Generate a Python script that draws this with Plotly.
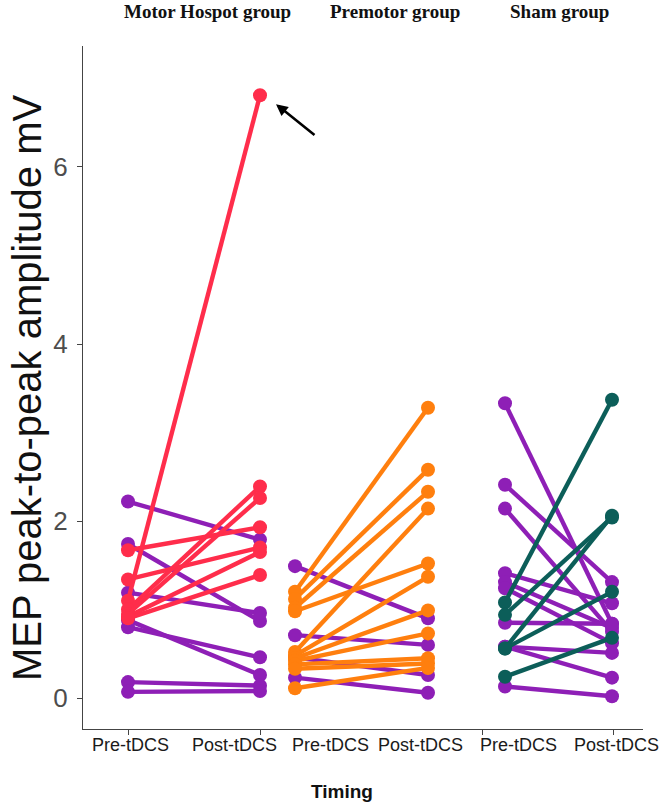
import plotly.graph_objects as go

# ---------------- data ----------------
timing_labels = ["Pre-tDCS", "Post-tDCS"]
group_names = ["Motor Hospot group", "Premotor group", "Sham group"]

motor_purple_pre = [2.22, 1.74, 1.19, 0.88, 0.80, 0.18, 0.07]
motor_purple_post = [1.79, 0.87, 0.96, 0.26, 0.46, 0.14, 0.08]
motor_red_pre = [1.67, 1.34, 1.10, 1.00, 0.95, 0.92, 0.90]
motor_red_post = [1.93, 1.70, 6.81, 2.39, 2.26, 1.65, 1.39]

premotor_purple_pre = [1.49, 0.71, 0.46, 0.23]
premotor_purple_post = [0.90, 0.60, 0.26, 0.06]
premotor_orange_pre = [1.20, 1.12, 1.02, 0.98, 0.52, 0.48, 0.45, 0.42, 0.38, 0.33, 0.11]
premotor_orange_post = [3.28, 2.58, 2.33, 1.52, 2.14, 1.37, 0.99, 0.73, 0.45, 0.39, 0.34]

sham_purple_pre = [3.33, 2.41, 2.14, 1.41, 1.31, 1.24, 0.85, 0.58, 0.58, 0.13]
sham_purple_post = [0.84, 1.31, 0.75, 1.07, 0.79, 0.62, 0.84, 0.51, 0.23, 0.02]
sham_teal_pre = [1.08, 0.94, 0.56, 0.56, 0.24]
sham_teal_post = [3.37, 2.04, 2.06, 1.20, 0.68]

# ---------------- layout constants ----------------
W, H = 663, 806
# plot area in page pixels
PX_LEFT, PX_RIGHT, PX_TOP, PX_BOTTOM = 83, 643, 46, 729
L, R, T, B = PX_LEFT, W - PX_RIGHT, PX_TOP, H - PX_BOTTOM
plot_w = PX_RIGHT - PX_LEFT
plot_h = PX_BOTTOM - PX_TOP

# x axis in pixel-like units so the three composite panels are spaced as in
# the original (composite) figure
X_RANGE = [PX_LEFT, PX_RIGHT]
PANEL_X = [(128, 260), (295, 428), (505, 612)]
TICK_X = [128, 260, 482, 613]
LABEL_X = [130, 234, 330, 420, 518, 616]
TITLE_X = [207, 395, 559]
Y_RANGE = [-0.350, 7.367]

PURPLE = "#8E1FB6"
RED = "#FF2D4B"
ORANGE = "#FF7F0E"
TEAL = "#0C5E59"

LINE_W = 4.4
MARK_SIZE = 14


def paper_x(px):
    return (px - PX_LEFT) / plot_w


def paper_y(py):
    return (PX_BOTTOM - py) / plot_h


fig = go.Figure()


def add_pairs(panel_idx, pre, post, color):
    x0, x1 = PANEL_X[panel_idx]
    for a, b in zip(pre, post):
        fig.add_trace(go.Scatter(
            x=[x0, x1], y=[a, b], mode="lines+markers",
            line=dict(color=color, width=LINE_W),
            marker=dict(color=color, size=MARK_SIZE),
            showlegend=False, hoverinfo="y"))


add_pairs(0, motor_purple_pre, motor_purple_post, PURPLE)
add_pairs(0, motor_red_pre, motor_red_post, RED)
add_pairs(1, premotor_purple_pre, premotor_purple_post, PURPLE)
add_pairs(1, premotor_orange_pre, premotor_orange_post, ORANGE)
add_pairs(2, sham_purple_pre, sham_purple_post, PURPLE)
add_pairs(2, sham_teal_pre, sham_teal_post, TEAL)

fig.update_layout(
    width=W, height=H,
    margin=dict(l=L, r=R, t=T, b=B, autoexpand=False),
    paper_bgcolor="white", plot_bgcolor="white",
    font=dict(family="Liberation Sans, Arial, sans-serif"),
    xaxis=dict(range=X_RANGE, tickmode="array", tickvals=TICK_X, showticklabels=False,
               showgrid=False, zeroline=False, showline=True, linecolor="#444444",
               linewidth=1.2, ticks="outside", ticklen=5, tickcolor="#444444",
               automargin=False),
    yaxis=dict(range=Y_RANGE, tickvals=[0, 2, 4, 6], showgrid=False, zeroline=False,
               showline=True, linecolor="#444444", linewidth=1.2, ticks="outside",
               ticklen=5, tickcolor="#444444", ticklabelstandoff=4, automargin=False,
               tickfont=dict(size=26, color="#4D4D4D")),
)

annotations = []
# x tick labels (placed where the composite original shows them)
for lx, txt in zip(LABEL_X, timing_labels * 3):
    annotations.append(dict(text=txt, xref="x", yref="paper", x=lx, y=paper_y(745),
                            xanchor="center", yanchor="middle", showarrow=False,
                            font=dict(size=18, color="#1a1a1a")))
# y axis title
annotations.append(dict(text="MEP peak-to-peak amplitude mV", textangle=-90,
                        xref="paper", yref="paper", x=paper_x(27), y=paper_y(388),
                        xanchor="center", yanchor="middle", showarrow=False,
                        font=dict(size=40, color="#111111")))
# x axis title
annotations.append(dict(text="<b>Timing</b>", xref="paper", yref="paper",
                        x=paper_x(342), y=paper_y(791),
                        xanchor="center", yanchor="middle", showarrow=False,
                        font=dict(size=19, color="#111111")))
# group titles
for name, tx in zip(group_names, TITLE_X):
    annotations.append(dict(text=f"<b>{name}</b>", xref="x", yref="paper",
                            x=tx, y=paper_y(12),
                            xanchor="center", yanchor="middle", showarrow=False,
                            font=dict(size=19, color="#111111",
                                      family="Liberation Serif, Times New Roman, serif")))
# arrow pointing at the outlier
max_val = max(motor_red_post)
annotations.append(dict(x=PANEL_X[0][1] + 16, y=max_val - 0.1, xref="x", yref="y",
                        text="", showarrow=True, arrowhead=2, arrowsize=0.9,
                        arrowwidth=2.6, arrowcolor="black", ax=40, ay=32,
                        standoff=0))
fig.update_layout(annotations=annotations)

fig.write_html("out.html", config={"displayModeBar": False},
               post_script="document.body.style.margin='0';document.body.style.overflow='hidden';")
